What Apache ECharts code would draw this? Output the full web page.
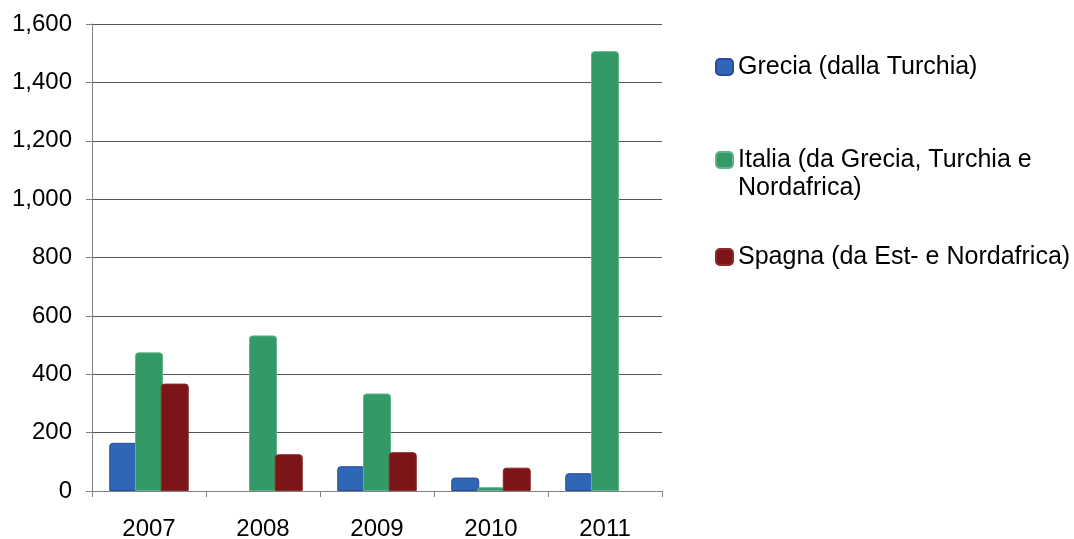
<!DOCTYPE html>
<html>
<head>
<meta charset="utf-8">
<script src="https://cdn.jsdelivr.net/npm/echarts@6/dist/echarts.min.js"></script>
<style>
  html, body { margin: 0; padding: 0; background: #fff; }
  #chart { width: 1074px; height: 539px; }
</style>
</head>
<body>
<div id="chart"></div>
<script>
const years = ['2007', '2008', '2009', '2010', '2011']
const seriesNames = ['Grecia (dalla Turchia)', 'Italia (da Grecia, Turchia e\nNordafrica)', 'Spagna (da Est- e Nordafrica)']
const grecia = [165, null, 85, 46, 61]
const italia = [475, 533, 334, 13, 1507]
const spagna = [368, 126, 133, 80, null]

const colors = ['#2f66b5', '#339966', '#7b1518']
const borders = ['#2b4b9c', '#5fb589', '#8c2a2c']
const font = 'Liberation Sans, Arial, sans-serif'

const chart = echarts.init(document.getElementById('chart'))

const makeSeries = (name, data, i) => ({
  name,
  type: 'bar',
  data,
  barWidth: 28,
  barGap: '-8%',
  itemStyle: {
    color: colors[i],
    borderColor: borders[i],
    borderWidth: 1,
    borderRadius: [3, 3, 0, 0],
  },
})

const legendBase = {
  orient: 'vertical',
  left: 715,
  padding: 0,
  itemWidth: 17,
  itemHeight: 16,
  icon: 'roundRect',
  textStyle: { fontFamily: font, fontSize: 25, color: '#000', lineHeight: 28 },
  selectedMode: false,
}

chart.setOption({
  animation: false,
  textStyle: { fontFamily: font },
  grid: { left: 92, right: 412, top: 24, bottom: 48, outerBoundsMode: 'none' },
  legend: [
    { ...legendBase, top: 53, data: [seriesNames[0]] },
    {
      ...legendBase,
      top: 118,
      data: [seriesNames[1]],
      // empty first line keeps the icon level with "Italia ..." rather than the block centre
      formatter: name => '\n' + name,
    },
    { ...legendBase, top: 243, data: [seriesNames[2]] },
  ],
  xAxis: {
    type: 'category',
    data: years,
    axisLine: { lineStyle: { color: '#808080', width: 1 } },
    axisTick: { show: true, length: 6, lineStyle: { color: '#808080' } },
    axisLabel: { color: '#000', fontSize: 24, margin: 26, fontFamily: font },
  },
  yAxis: {
    type: 'value',
    min: 0,
    max: 1600,
    interval: 200,
    axisLine: { show: true, lineStyle: { color: '#808080', width: 1 } },
    axisTick: { show: true, length: 6, lineStyle: { color: '#808080' } },
    axisLabel: {
      color: '#000',
      fontSize: 24,
      margin: 20,
      fontFamily: font,
      formatter: v => v.toLocaleString('en-US'),
    },
    splitLine: { lineStyle: { color: '#555', width: 1 } },
  },
  series: [
    makeSeries(seriesNames[0], grecia, 0),
    makeSeries(seriesNames[1], italia, 1),
    makeSeries(seriesNames[2], spagna, 2),
  ],
})
</script>
</body>
</html>
